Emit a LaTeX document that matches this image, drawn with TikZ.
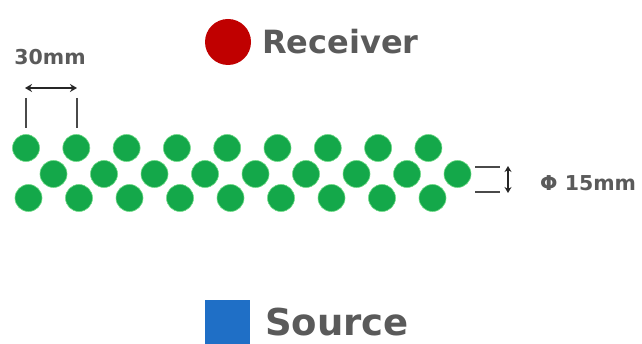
\documentclass[tikz,border=0pt]{standalone}
\usepackage{fontspec}
\setmainfont{DejaVu Sans}
\usetikzlibrary{arrows.meta}
\definecolor{pipegreen}{HTML}{14A84A}
\definecolor{rxred}{HTML}{C00000}
\definecolor{srcblue}{HTML}{1F6FC6}
\definecolor{labelgray}{HTML}{5A5A5A}
\definecolor{dimgray}{HTML}{4A4A4A}
\tikzset{
  pipe/.style={circle, fill=pipegreen, draw=pipegreen!70!green!60, line width=0.6pt, minimum size=27pt, inner sep=0pt},
  biglabel/.style={font=\bfseries\fontsize{32}{36}\selectfont, text=labelgray, anchor=west, inner sep=0pt},
  dimlabel/.style={font=\bfseries\fontsize{20.5}{24}\selectfont, text=labelgray, inner sep=0pt},
  tick/.style={draw=dimgray, line width=1.2pt},
  dimarrow/.style={draw=black!85, line width=1.5pt, {Stealth[length=7pt,width=8pt]}-{Stealth[length=7pt,width=8pt]}}
}
\begin{document}
\begin{tikzpicture}[x=1pt,y=-1pt]
\useasboundingbox (0,0) rectangle (642,344);
\fill[white] (0,0) rectangle (642,344);

% receiver
\node[circle, fill=rxred, minimum size=46pt, inner sep=0pt] (rx) at (228,42) {};
\node[biglabel] (rxlabel) at (262,42) {Receiver};

% source
\node[fill=srcblue, minimum width=45pt, minimum height=46pt, inner sep=0pt, anchor=north west] (src) at (205,300) {};
\node[biglabel, font=\bfseries\fontsize{37}{40}\selectfont] (srclabel) at (265,322) {Source};

% staggered pipe array: top, middle and bottom rows
\foreach \i in {0,...,8} {
  \node[pipe] (t\i) at ({26+50.3*\i},148) {};
  \node[pipe] (m\i) at ({53.5+50.5*\i},174) {};
  \node[pipe] (b\i) at ({28.5+50.5*\i},198) {};
}

% pitch dimension
\coordinate (pa1) at (26,98);  \coordinate (pa2) at (26,128);
\coordinate (pb1) at (77,98);  \coordinate (pb2) at (77,128);
\draw[tick] (pa1) -- (pa2);
\draw[tick] (pb1) -- (pb2);
\coordinate (arrL) at (25,88); \coordinate (arrR) at (77,88);
\draw[dimarrow] (arrL) -- (arrR);
\node[dimlabel] (pitch) at (50,57) {30mm};

% diameter dimension
\coordinate (d1a) at (475,167); \coordinate (d1b) at (500,167);
\coordinate (d2a) at (475,192); \coordinate (d2b) at (500,192);
\draw[tick] (d1a) -- (d1b);
\draw[tick] (d2a) -- (d2b);
\coordinate (dTop) at (508,166); \coordinate (dBot) at (508,193);
\draw[draw=black!85, line width=1.5pt, {Stealth[length=6pt,width=7pt]}-{Stealth[length=6pt,width=7pt]}] (dTop) -- (dBot);
\node[dimlabel, anchor=west] (dia) at (540,183) {Φ 15mm};
\end{tikzpicture}
\end{document}
